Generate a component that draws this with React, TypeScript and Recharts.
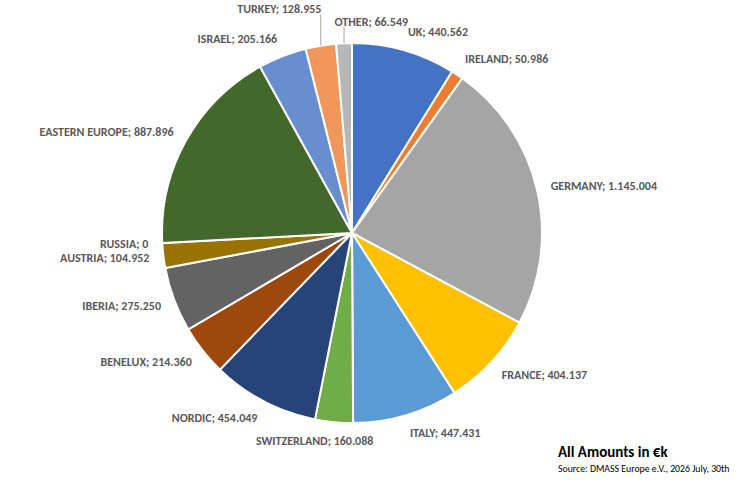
import { PieChart, Pie, Cell } from "recharts";

const regions = [
  "UK", "IRELAND", "GERMANY", "FRANCE", "ITALY", "SWITZERLAND", "NORDIC", "BENELUX",
  "IBERIA", "AUSTRIA", "RUSSIA", "EASTERN EUROPE", "ISRAEL", "TURKEY", "OTHER",
];
const amounts = [
  440562, 50986, 1145004, 404137, 447431, 160088, 454049, 214360,
  275250, 104952, 0, 887896, 205166, 128955, 66549,
];
const sliceColors = [
  "#4472C4", "#ED7D31", "#A5A5A5", "#FFC000", "#5B9BD5", "#70AD47", "#264478", "#9E480E",
  "#636363", "#997300", "#255E91", "#43682B", "#698ED0", "#F1975A", "#B7B7B7",
];

const data = regions.map((name, i) => ({ name, value: amounts[i] }));

// labels Excel moved to avoid overlaps
const labelNudge: Record<string, { dx: number; dy: number; anchor?: string; leader?: boolean }> = {
  TURKEY: { dx: 3, dy: -18, leader: true },
  OTHER: { dx: -9, dy: -3, anchor: "start", leader: true },
  SWITZERLAND: { dx: -18, dy: 0, anchor: "middle" },
};

const LABEL_FONT = "Carlito, Calibri, 'Liberation Sans Narrow', Lato, 'Open Sans', sans-serif";
const RAD = Math.PI / 180;

const fmt = (n: number) => String(n).replace(/\B(?=(\d{3})+(?!\d))/g, ".");

const renderLabel = (props: any) => {
  const { cx, cy, midAngle, outerRadius, name, value } = props;
  const cos = Math.cos(-midAngle * RAD);
  const sin = Math.sin(-midAngle * RAD);
  const nudge = labelNudge[name] || { dx: 0, dy: 0 };
  const x = cx + (outerRadius + 14) * cos + nudge.dx;
  const y = cy + (outerRadius + 18.5) * sin + nudge.dy;
  const anchor = nudge.anchor || (cos >= 0 ? "start" : "end");
  const ex = cx + outerRadius * cos;
  const ey = cy + outerRadius * sin;
  return (
    <g key={`lbl-${name}`}>
      {nudge.leader && (
        <line x1={ex} y1={ey} x2={ex} y2={y + 5} stroke="#A6A6A6" strokeWidth={1} />
      )}
      <text
        x={x}
        y={y}
        textAnchor={anchor}
        dominantBaseline="central"
        fill="#595959"
        fontFamily={LABEL_FONT}
        fontWeight="bold"
        fontSize={12}
      >
        {`${name}; ${fmt(value)}`}
      </text>
    </g>
  );
};

export default function App() {
  return (
    <div style={{ position: "absolute", left: 0, top: 0, width: 750, height: 482, background: "#fff" }}>
      <PieChart width={750} height={482} margin={{ top: 0, right: 0, bottom: 0, left: 0 }}>
        <Pie
          data={data}
          dataKey="value"
          nameKey="name"
          cx={352}
          cy={233}
          outerRadius={190}
          startAngle={90}
          endAngle={-270}
          stroke="#fff"
          strokeWidth={2}
          label={renderLabel}
          labelLine={false}
          isAnimationActive={false}
        >
          {data.map((d, i) => (
            <Cell key={d.name} fill={sliceColors[i]} />
          ))}
        </Pie>
        <text x={558} y={457} fontFamily={LABEL_FONT} fontWeight="bold" fontSize={15} fill="#000">
          All Amounts in €k
        </text>
        <text x={558} y={472} fontFamily={LABEL_FONT} fontSize={9.8} fill="#000">
          Source: DMASS Europe e.V., 2026 July, 30th
        </text>
      </PieChart>
    </div>
  );
}
